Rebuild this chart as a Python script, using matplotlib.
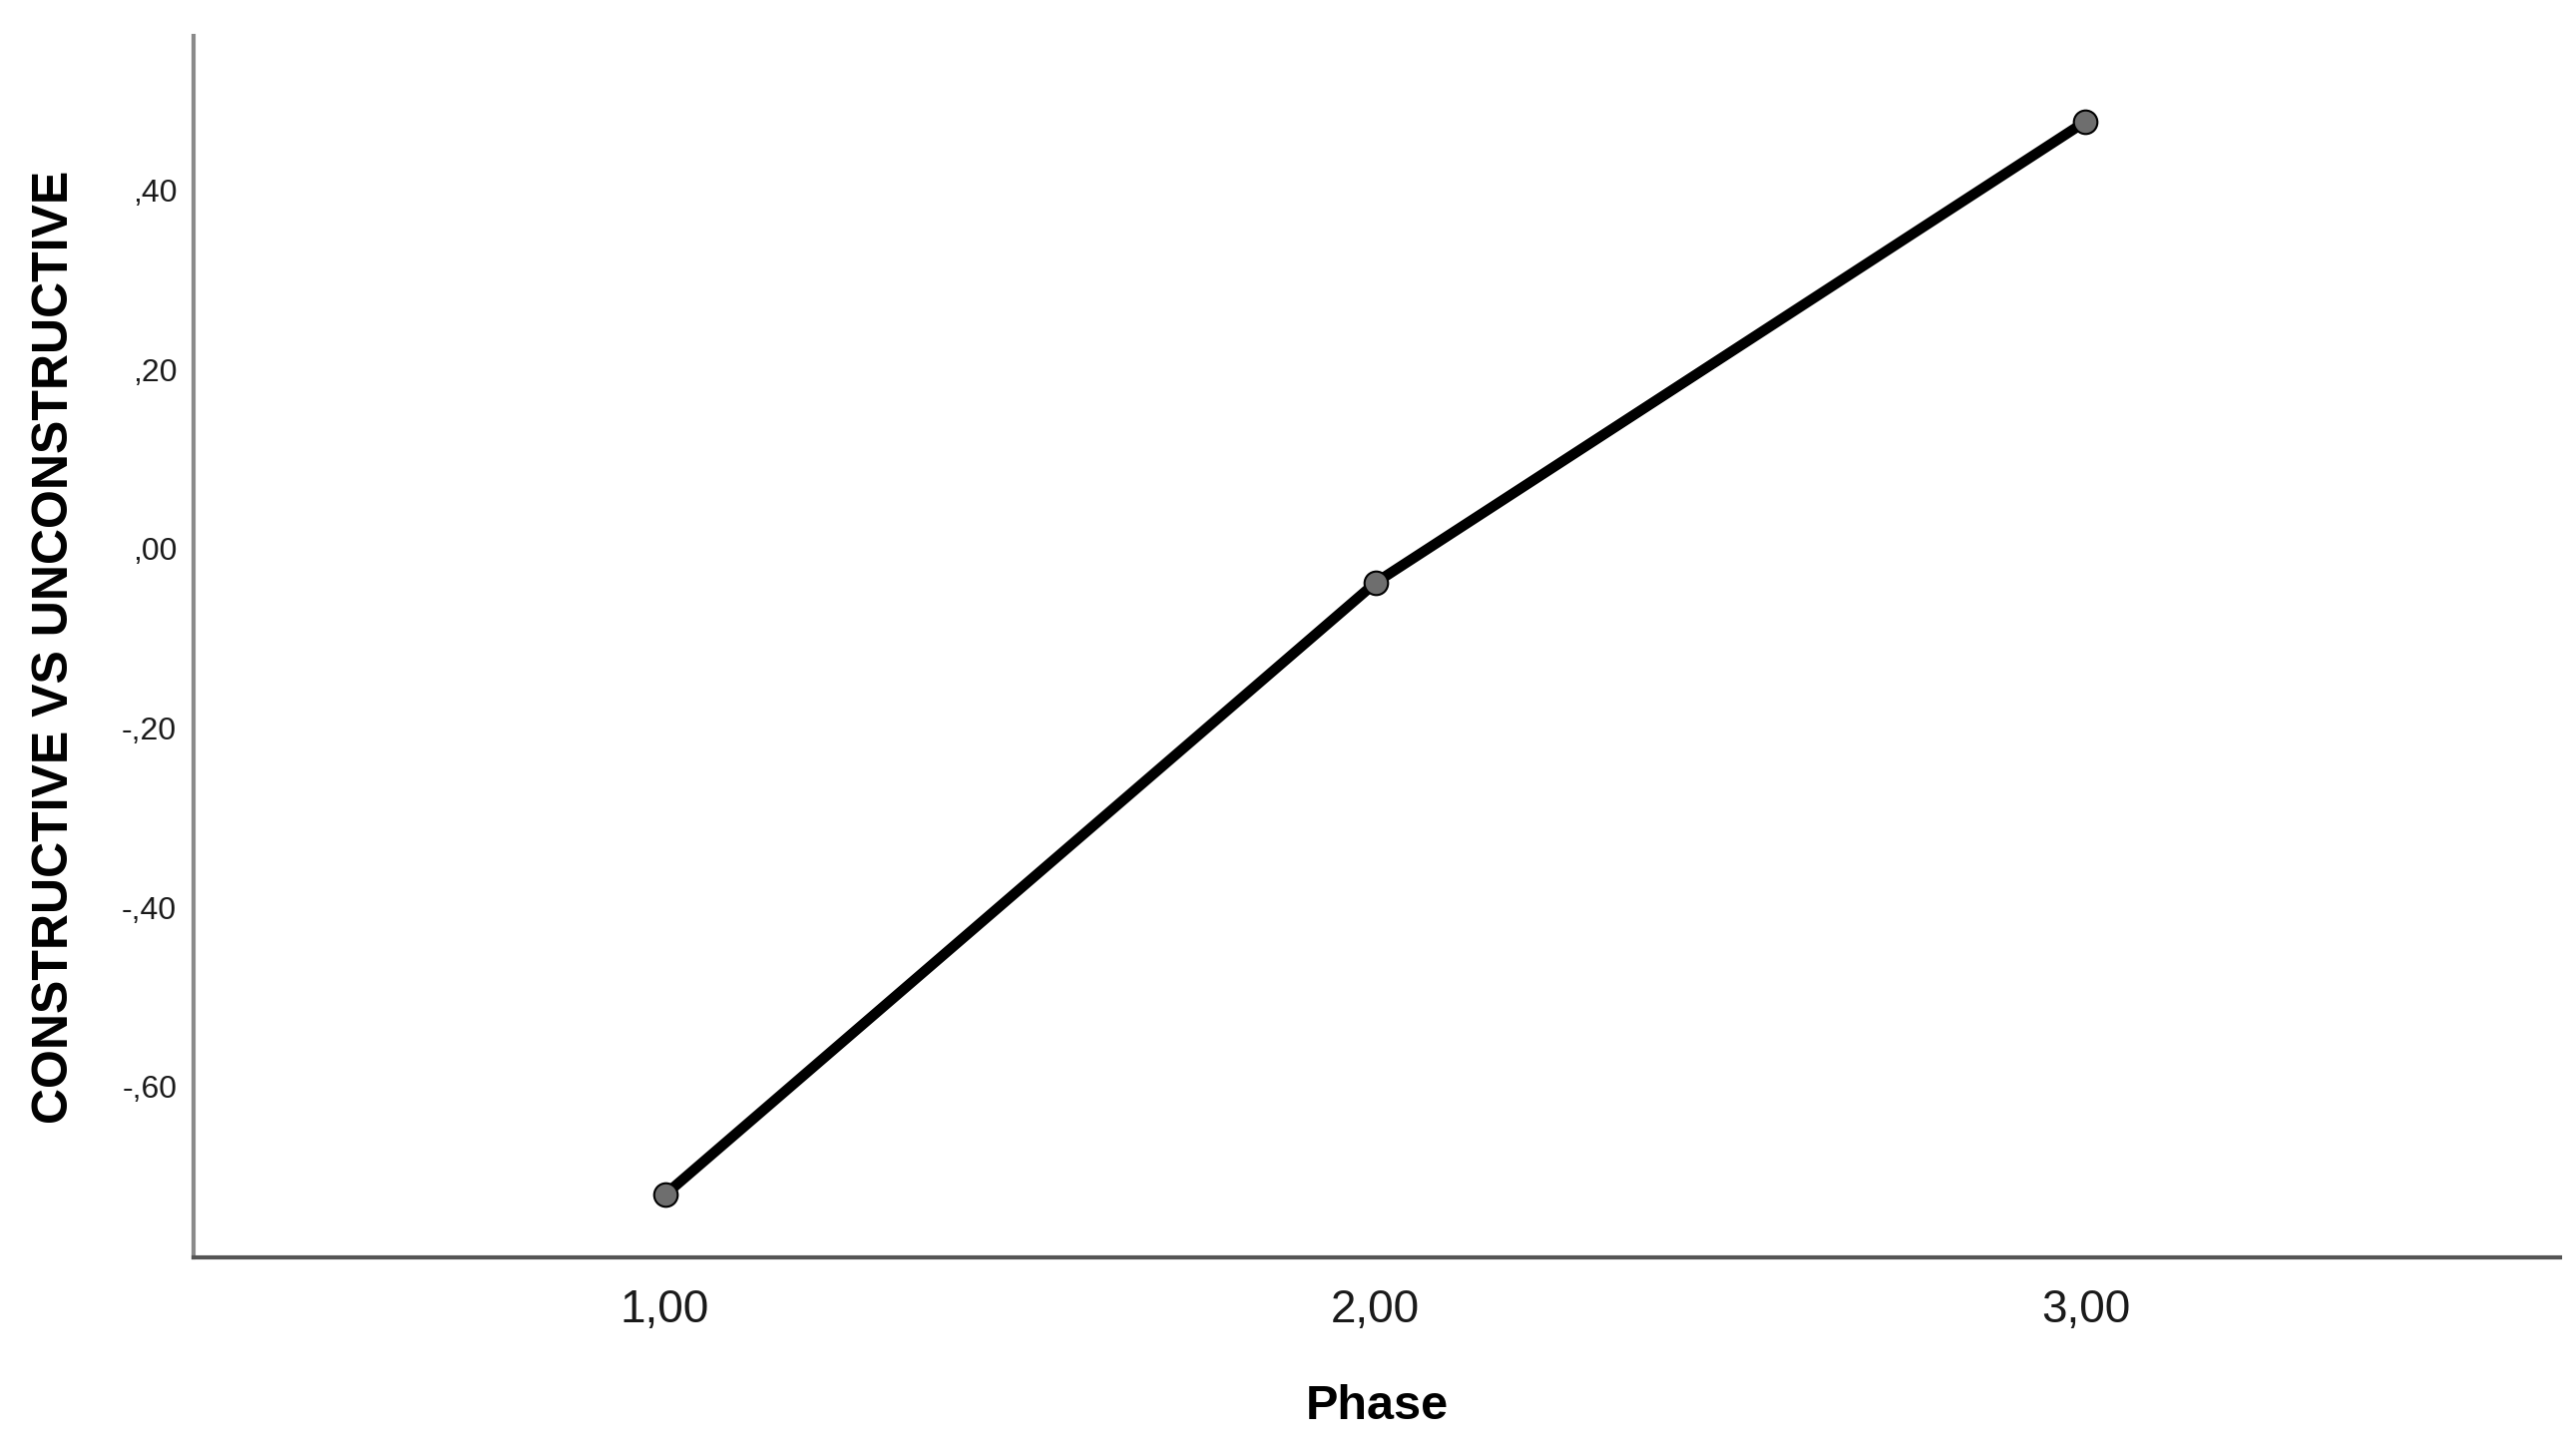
import matplotlib
matplotlib.use("Agg")
import matplotlib.pyplot as plt
from matplotlib.ticker import FuncFormatter

# data
phase = [1.0, 2.0, 3.0]
score = [-0.721, -0.038, 0.477]
y_ticks = [-0.6, -0.4, -0.2, 0.0, 0.2, 0.4]
x_ticks = [1.0, 2.0, 3.0]


def spss_y(v, pos):
    s = "%.2f" % v
    if s == "-0.00":
        s = "0.00"
    s = s.replace("0.", ".", 1) if s.startswith(("0.", "-0.")) else s
    return s.replace(".", ",")


def spss_x(v, pos):
    return ("%.2f" % v).replace(".", ",")


plt.rcParams['font.family'] = ['Liberation Sans', 'DejaVu Sans']

fig = plt.figure(figsize=(25.82, 14.58), dpi=100)
ax = fig.add_axes([0.0751, 0.1358, 0.9187, 0.8395])

ax.plot(phase, score, color='black', linewidth=7.5, solid_capstyle='round',
        marker='o', markersize=17, markerfacecolor='#6e6e6e',
        markeredgecolor='black', markeredgewidth=1.5, zorder=3)

ax.set_xlim(0.336, 3.668)
ax.set_ylim(-0.791, 0.5725)
ax.set_xticks(x_ticks)
ax.set_yticks(y_ticks)
ax.xaxis.set_major_formatter(FuncFormatter(spss_x))
ax.yaxis.set_major_formatter(FuncFormatter(spss_y))

ax.tick_params(axis='y', length=0, pad=12, labelsize=23, labelcolor='#1a1a1a')
ax.tick_params(axis='x', length=0, pad=22, labelsize=33, labelcolor='#1a1a1a')

for side in ['top', 'right']:
    ax.spines[side].set_visible(False)
ax.spines['left'].set_color('#8a8a8a')
ax.spines['left'].set_linewidth(3)
ax.spines['bottom'].set_color('#555555')
ax.spines['bottom'].set_linewidth(3)

ax.set_xlabel('Phase', fontsize=35, fontweight='bold', labelpad=38)
ax.set_ylabel('CONSTRUCTIVE VS UNCONSTRUCTIVE', fontsize=36, fontweight='bold', labelpad=32)

fig.savefig('out.png', dpi=100)
